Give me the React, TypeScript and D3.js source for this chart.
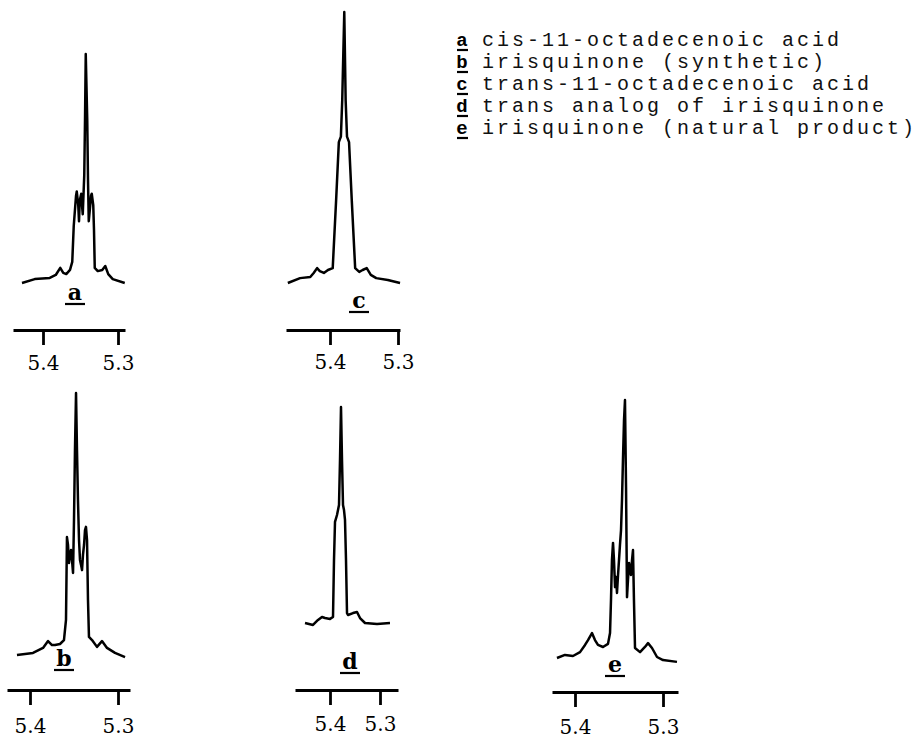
import React, { useEffect, useRef } from "react";
import * as d3 from "d3";

// chemical shift ticks (ppm)
const tickValues = [5.4, 5.3];

// spectra: [ppm, relative intensity %]
const spectrumA: [number, number][] = [
  [5.428, 0], [5.411, 1.7], [5.391, 2.2], [5.383, 3.5], [5.377, 6.6], [5.373, 4.4],
  [5.369, 3.9], [5.364, 5.7], [5.361, 9.2], [5.359, 25], [5.356, 38], [5.355, 40],
  [5.353, 34], [5.352, 27], [5.351, 36], [5.349, 39], [5.348, 34], [5.347, 30],
  [5.345, 47], [5.344, 71], [5.343, 100], [5.341, 71], [5.34, 45], [5.339, 27],
  [5.337, 34], [5.336, 38], [5.335, 39], [5.333, 34], [5.332, 23], [5.331, 6.6],
  [5.327, 5.2], [5.321, 5.7], [5.317, 7.4], [5.313, 3.9], [5.307, 1.7], [5.291, 0],
];

const spectrumB: [number, number][] = [
  [5.4148, 0], [5.3966, 0.8], [5.3852, 2.7], [5.3795, 5.3], [5.375, 3.8], [5.3716, 3.8],
  [5.3659, 4.2], [5.3614, 5.7], [5.3591, 13.4], [5.358, 45], [5.3568, 42], [5.3557, 35.1],
  [5.3545, 38.2], [5.3534, 40.1], [5.3523, 36.3], [5.3511, 31.3], [5.35, 51.5], [5.3489, 78.2],
  [5.3477, 100], [5.3466, 78.2], [5.3455, 59.2], [5.3443, 43.9], [5.3432, 36.3], [5.342, 34.4],
  [5.3409, 32.4], [5.3398, 38.2], [5.3386, 42], [5.3375, 47.7], [5.3364, 48.9], [5.3352, 43.9],
  [5.3341, 21], [5.333, 6.9], [5.3295, 5.7], [5.3239, 3.1], [5.3182, 5.3], [5.3125, 2.7],
  [5.3034, 0.8], [5.292, -0.8],
];

const spectrumC: [number, number][] = [
  [5.462, 0], [5.444, 1.8], [5.429, 2.2], [5.424, 3.7], [5.419, 5.5], [5.415, 4.4],
  [5.409, 3.7], [5.403, 4.8], [5.396, 5.5], [5.391, 30.6], [5.387, 52], [5.384, 54],
  [5.382, 67.5], [5.379, 100], [5.377, 67.5], [5.375, 54], [5.372, 52], [5.368, 30.6],
  [5.363, 5.5], [5.357, 4.1], [5.352, 4.8], [5.346, 5.5], [5.34, 3.0], [5.332, 1.8],
  [5.315, 1.1], [5.297, 0],
];

const spectrumD: [number, number][] = [
  [5.45, 0], [5.434, -0.9], [5.424, 1.4], [5.416, 2.8], [5.41, 2.3], [5.4, 1.9],
  [5.394, 2.8], [5.392, 29.2], [5.39, 46.8], [5.386, 50], [5.382, 54.6], [5.38, 75.5],
  [5.378, 100], [5.376, 75.5], [5.374, 54.6], [5.372, 52.3], [5.37, 47.7], [5.368, 29.2],
  [5.366, 4.6], [5.364, 3.7], [5.354, 4.6], [5.346, 5.1], [5.34, 2.3], [5.33, 0],
  [5.306, -0.5], [5.28, 0],
];

const spectrumE: [number, number][] = [
  [5.4205, -0.4], [5.4114, 0.8], [5.4023, 0.4], [5.3943, 1.9], [5.3886, 4.7], [5.3852, 6.6],
  [5.3807, 9.3], [5.3773, 6.6], [5.3739, 4.7], [5.3682, 3.9], [5.3625, 5.1], [5.3602, 9.3],
  [5.3591, 22.2], [5.358, 37.7], [5.3568, 44.4], [5.3557, 37.7], [5.3545, 27.2], [5.3534, 31.1],
  [5.3523, 24.9], [5.3511, 31.9], [5.35, 37.7], [5.3489, 43.6], [5.3477, 49.4], [5.3466, 61.1],
  [5.3455, 76.7], [5.3443, 92.2], [5.3432, 100], [5.342, 66.1], [5.3409, 23.3], [5.3398, 30],
  [5.3386, 36.6], [5.3375, 33.9], [5.3364, 31.9], [5.3352, 37.7], [5.3341, 41.6], [5.333, 22.2],
  [5.3318, 3.5], [5.3261, 1.9], [5.3205, 3.9], [5.317, 5.4], [5.3125, 3.5], [5.3068, 0],
  [5.3, -1.2], [5.2841, -1.9],
];

const legendKeys = ["a", "b", "c", "d", "e"];
const legendNames = [
  "cis-11-octadecenoic acid",
  "irisquinone (synthetic)",
  "trans-11-octadecenoic acid",
  "trans analog of irisquinone",
  "irisquinone (natural product)",
];

// layout for each small panel (pixel positions)
const panels = [
  { key: "a", data: spectrumA, t1: 43, t2: 118, left: 13, right: 125, axisY: 330, baseY: 283, peakY: 54, labelX: 75, labelY: 300, tickTextY: 40 },
  { key: "c", data: spectrumC, t1: 330, t2: 398, left: 286, right: 400, axisY: 330, baseY: 283, peakY: 12, labelX: 359, labelY: 308, tickTextY: 39 },
  { key: "b", data: spectrumB, t1: 30, t2: 118, left: 7, right: 130, axisY: 690, baseY: 655, peakY: 393, labelX: 64, labelY: 666, tickTextY: 43 },
  { key: "d", data: spectrumD, t1: 330, t2: 380, left: 295, right: 398, axisY: 690, baseY: 623, peakY: 407, labelX: 350, labelY: 669, tickTextY: 41 },
  { key: "e", data: spectrumE, t1: 575, t2: 663, left: 552, right: 678, axisY: 692, baseY: 657, peakY: 400, labelX: 615, labelY: 672, tickTextY: 42 },
];

export default function App() {
  const svgRef = useRef<SVGSVGElement>(null);

  useEffect(() => {
    const svg = d3.select(svgRef.current);
    svg.selectAll("*").remove();

    panels.forEach((p) => {
      const tickScale = d3.scaleLinear().domain(tickValues).range([p.t1, p.t2]);
      const x = d3
        .scaleLinear()
        .domain([tickScale.invert(p.left), tickScale.invert(p.right)])
        .range([p.left, p.right]);
      const y = d3.scaleLinear().domain([0, 100]).range([p.baseY, p.peakY]);

      const g = svg.append("g");

      const line = d3
        .line<[number, number]>()
        .x((d) => x(d[0]))
        .y((d) => y(d[1]));

      g.append("path")
        .datum(p.data)
        .attr("d", line)
        .attr("fill", "none")
        .attr("stroke", "#000")
        .attr("stroke-width", 2.5)
        .attr("stroke-linejoin", "round");

      const axis = g
        .append("g")
        .attr("transform", `translate(0,${p.axisY})`)
        .call(
          d3
            .axisBottom(x)
            .tickValues(tickValues)
            .tickFormat(d3.format(".1f"))
            .tickSize(15)
            .tickSizeOuter(0)
        );
      axis.select(".domain").attr("stroke", "#000").attr("stroke-width", 2.8);
      axis.selectAll(".tick line").attr("stroke", "#000").attr("stroke-width", 2.8);
      axis
        .selectAll(".tick text")
        .attr("y", p.tickTextY)
        .attr("dy", 0)
        .attr("fill", "#000")
        .style("font-family", "'DejaVu Serif', serif")
        .style("font-size", "20px");

      g.append("text")
        .attr("x", p.labelX)
        .attr("y", p.labelY)
        .attr("text-anchor", "middle")
        .style("font-family", "'DejaVu Serif', serif")
        .style("font-weight", "bold")
        .style("font-size", "22px")
        .text(p.key);
      g.append("line")
        .attr("x1", p.labelX - 10)
        .attr("x2", p.labelX + 10)
        .attr("y1", p.labelY + 4)
        .attr("y2", p.labelY + 4)
        .attr("stroke", "#000")
        .attr("stroke-width", 2.2);
    });

    const legend = svg.append("g");
    legendKeys.forEach((k, i) => {
      const by = 46 + i * 22;
      legend
        .append("text")
        .attr("x", 462)
        .attr("y", by)
        .attr("text-anchor", "middle")
        .style("font-family", "'Liberation Mono', monospace")
        .style("font-weight", "bold")
        .style("font-size", "19px")
        .text(k);
      legend
        .append("line")
        .attr("x1", 457)
        .attr("x2", 468)
        .attr("y1", by + 4)
        .attr("y2", by + 4)
        .attr("stroke", "#000")
        .attr("stroke-width", 2.2);
      legend
        .append("text")
        .attr("x", 482)
        .attr("y", by)
        .style("font-family", "'Liberation Mono', monospace")
        .style("font-size", "20px")
        .style("letter-spacing", "3px")
        .attr("fill", "#111")
        .text(legendNames[i]);
    });
  }, []);

  return (
    <svg
      ref={svgRef}
      width={916}
      height={740}
      style={{ position: "absolute", left: 0, top: 0, background: "white" }}
    />
  );
}
